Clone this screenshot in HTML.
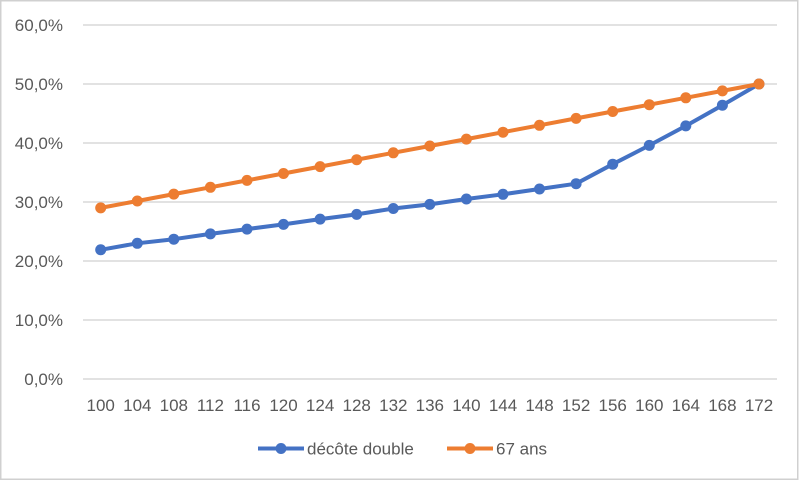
<!DOCTYPE html>
<html>
<head>
<meta charset="utf-8">
<style>
  html, body { margin:0; padding:0; background:#fff; }
  svg { display:block; }
  text { font-family: "Liberation Sans", "DejaVu Sans", sans-serif; fill:#595959; }
</style>
</head>
<body>
<svg width="800" height="481" viewBox="0 0 800 481" xmlns="http://www.w3.org/2000/svg">
  <rect x="0" y="0" width="800" height="481" fill="#fff"/>
  <rect x="0.75" y="0.75" width="797" height="478.5" fill="none" stroke="#d0d0d0" stroke-width="1.5"/>

  <!-- gridlines -->
  <g stroke="#d9d9d9" stroke-width="1.4">
    <line x1="83" y1="25" x2="777" y2="25"/>
    <line x1="83" y1="84" x2="777" y2="84"/>
    <line x1="83" y1="143" x2="777" y2="143"/>
    <line x1="83" y1="202" x2="777" y2="202"/>
    <line x1="83" y1="261" x2="777" y2="261"/>
    <line x1="83" y1="320" x2="777" y2="320"/>
    <line x1="83" y1="379" x2="777" y2="379"/>
  </g>

  <!-- y labels -->
  <g font-size="17" text-anchor="end">
    <text x="63" y="31">60,0%</text>
    <text x="63" y="90">50,0%</text>
    <text x="63" y="149">40,0%</text>
    <text x="63" y="208">30,0%</text>
    <text x="63" y="267">20,0%</text>
    <text x="63" y="326">10,0%</text>
    <text x="63" y="385">0,0%</text>
  </g>

  <!-- x labels -->
  <g font-size="17" text-anchor="middle">
    <text x="100.7" y="411">100</text>
    <text x="137.3" y="411">104</text>
    <text x="173.8" y="411">108</text>
    <text x="210.4" y="411">112</text>
    <text x="247.0" y="411">116</text>
    <text x="283.5" y="411">120</text>
    <text x="320.1" y="411">124</text>
    <text x="356.7" y="411">128</text>
    <text x="393.3" y="411">132</text>
    <text x="429.8" y="411">136</text>
    <text x="466.4" y="411">140</text>
    <text x="503.0" y="411">144</text>
    <text x="539.5" y="411">148</text>
    <text x="576.1" y="411">152</text>
    <text x="612.7" y="411">156</text>
    <text x="649.3" y="411">160</text>
    <text x="685.8" y="411">164</text>
    <text x="722.4" y="411">168</text>
    <text x="759.0" y="411">172</text>
  </g>

  <!-- blue series -->
  <polyline fill="none" stroke="#4472C4" stroke-width="4" stroke-linejoin="round" stroke-linecap="round"
    points="100.7,249.8 137.3,243.3 173.8,239.2 210.4,233.9 247.0,229.1 283.5,224.4 320.1,219.1 356.7,214.4 393.3,208.5 429.8,204.4 466.4,199.0 503.0,194.3 539.5,189.0 576.1,183.7 612.7,164.2 649.3,145.4 685.8,125.9 722.4,105.2 759.0,84"/>
  <g fill="#4472C4">
    <circle cx="100.7" cy="249.8" r="5.5"/>
    <circle cx="137.3" cy="243.3" r="5.5"/>
    <circle cx="173.8" cy="239.2" r="5.5"/>
    <circle cx="210.4" cy="233.9" r="5.5"/>
    <circle cx="247.0" cy="229.1" r="5.5"/>
    <circle cx="283.5" cy="224.4" r="5.5"/>
    <circle cx="320.1" cy="219.1" r="5.5"/>
    <circle cx="356.7" cy="214.4" r="5.5"/>
    <circle cx="393.3" cy="208.5" r="5.5"/>
    <circle cx="429.8" cy="204.4" r="5.5"/>
    <circle cx="466.4" cy="199.0" r="5.5"/>
    <circle cx="503.0" cy="194.3" r="5.5"/>
    <circle cx="539.5" cy="189.0" r="5.5"/>
    <circle cx="576.1" cy="183.7" r="5.5"/>
    <circle cx="612.7" cy="164.2" r="5.5"/>
    <circle cx="649.3" cy="145.4" r="5.5"/>
    <circle cx="685.8" cy="125.9" r="5.5"/>
    <circle cx="722.4" cy="105.2" r="5.5"/>
    <circle cx="759.0" cy="84" r="5.5"/>
  </g>

  <!-- orange series -->
  <polyline fill="none" stroke="#ED7D31" stroke-width="4" stroke-linejoin="round" stroke-linecap="round"
    points="100.7,207.9 137.3,201.0 173.8,194.1 210.4,187.3 247.0,180.4 283.5,173.5 320.1,166.6 356.7,159.7 393.3,152.8 429.8,146.0 466.4,139.1 503.0,132.2 539.5,125.3 576.1,118.4 612.7,111.5 649.3,104.7 685.8,97.8 722.4,90.9 759.0,84"/>
  <g fill="#ED7D31">
    <circle cx="100.7" cy="207.9" r="5.5"/>
    <circle cx="137.3" cy="201.0" r="5.5"/>
    <circle cx="173.8" cy="194.1" r="5.5"/>
    <circle cx="210.4" cy="187.3" r="5.5"/>
    <circle cx="247.0" cy="180.4" r="5.5"/>
    <circle cx="283.5" cy="173.5" r="5.5"/>
    <circle cx="320.1" cy="166.6" r="5.5"/>
    <circle cx="356.7" cy="159.7" r="5.5"/>
    <circle cx="393.3" cy="152.8" r="5.5"/>
    <circle cx="429.8" cy="146.0" r="5.5"/>
    <circle cx="466.4" cy="139.1" r="5.5"/>
    <circle cx="503.0" cy="132.2" r="5.5"/>
    <circle cx="539.5" cy="125.3" r="5.5"/>
    <circle cx="576.1" cy="118.4" r="5.5"/>
    <circle cx="612.7" cy="111.5" r="5.5"/>
    <circle cx="649.3" cy="104.7" r="5.5"/>
    <circle cx="685.8" cy="97.8" r="5.5"/>
    <circle cx="722.4" cy="90.9" r="5.5"/>
    <circle cx="759.0" cy="84" r="5.5"/>
  </g>

  <!-- legend -->
  <line x1="258" y1="448.5" x2="304" y2="448.5" stroke="#4472C4" stroke-width="4"/>
  <circle cx="281" cy="448.5" r="5.5" fill="#4472C4"/>
  <text x="307" y="454.5" font-size="17">décôte double</text>
  <line x1="447" y1="448.5" x2="493" y2="448.5" stroke="#ED7D31" stroke-width="4"/>
  <circle cx="470" cy="448.5" r="5.5" fill="#ED7D31"/>
  <text x="496" y="454.5" font-size="17">67 ans</text>
</svg>
</body>
</html>
